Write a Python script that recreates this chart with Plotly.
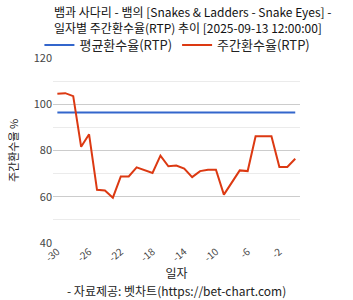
import plotly.graph_objects as go

days = list(range(-30, 1))
weekly_rtp = [104.5, 104.8, 103.5, 81.6, 87.0, 63.0, 62.7, 59.6, 68.8, 68.8,
              72.7, 71.4, 70.3, 77.8, 73.2, 73.5, 72.2, 68.5, 71.1, 71.7,
              71.7, 60.9, 65.9, 71.4, 71.1, 86.2, 86.2, 86.2, 72.9, 72.9, 76.4]
avg_rtp_value = 96.4
avg_rtp = [avg_rtp_value] * len(days)
x_ticks = [-30, -26, -22, -18, -14, -10, -6, -2]
y_ticks = [40, 60, 80, 100, 120]

title_line1 = "뱀과 사다리 - 뱀의 [Snakes &amp; Ladders - Snake Eyes] -"
title_line2 = "일자별 주간환수율(RTP) 추이 [2025-09-13 12:00:00]"
font_family = "Noto Sans CJK KR"

fig = go.Figure()
fig.add_trace(go.Scatter(x=days, y=avg_rtp, mode="lines", name="평균환수율(RTP)",
                         line=dict(color="#3366cc", width=2)))
fig.add_trace(go.Scatter(x=days, y=weekly_rtp, mode="lines", name="주간환수율(RTP)",
                         line=dict(color="#dc3912", width=2)))

fig.update_layout(
    width=353, height=300,
    margin=dict(l=53, r=53, t=58, b=57),
    paper_bgcolor="white", plot_bgcolor="white",
    font=dict(family=font_family, size=11, color="#222"),
    legend=dict(orientation="h", x=-0.055, xanchor="left", y=1.07, yanchor="middle",
                font=dict(size=13, color="#222"), itemwidth=30,
                bgcolor="rgba(0,0,0,0)"),
    showlegend=True,
)
fig.update_xaxes(range=[-30.55, 0.6], tickvals=x_ticks, ticktext=[str(v) for v in x_ticks],
                 tickangle=-40, showgrid=False, zeroline=False, showline=False,
                 tickfont=dict(size=10, color="#444"),
                 title=dict(text="일자", font=dict(size=12, color="#222"), standoff=4))
fig.update_yaxes(range=[40, 120], tickvals=y_ticks, showgrid=True, gridcolor="#cccccc",
                 gridwidth=1, zeroline=False, showline=False,
                 minor=dict(dtick=10, showgrid=True, gridcolor="#ebebeb", gridwidth=1),
                 tickfont=dict(size=11, color="#444"),
                 title=dict(text="주간환수율 %", font=dict(size=11, color="#222"), standoff=12))
fig.add_annotation(text=title_line1, xref="paper", yref="paper", x=0, y=1, yshift=46.5,
                   xanchor="left", yanchor="middle", align="left", showarrow=False,
                   borderpad=0, font=dict(size=12, color="#111"))
fig.add_annotation(text=title_line2, xref="paper", yref="paper", x=0, y=1, yshift=30.5,
                   xanchor="left", yanchor="middle", align="left", showarrow=False,
                   borderpad=0, font=dict(size=12, color="#111"))
fig.add_annotation(text="- 자료제공: 벳차트(https://bet-chart.com)", xref="paper", yref="paper",
                   x=0.5, y=0, yshift=-37, xanchor="center", yanchor="top", showarrow=False,
                   font=dict(size=12, color="#222"))

fig.write_html("out.html")
